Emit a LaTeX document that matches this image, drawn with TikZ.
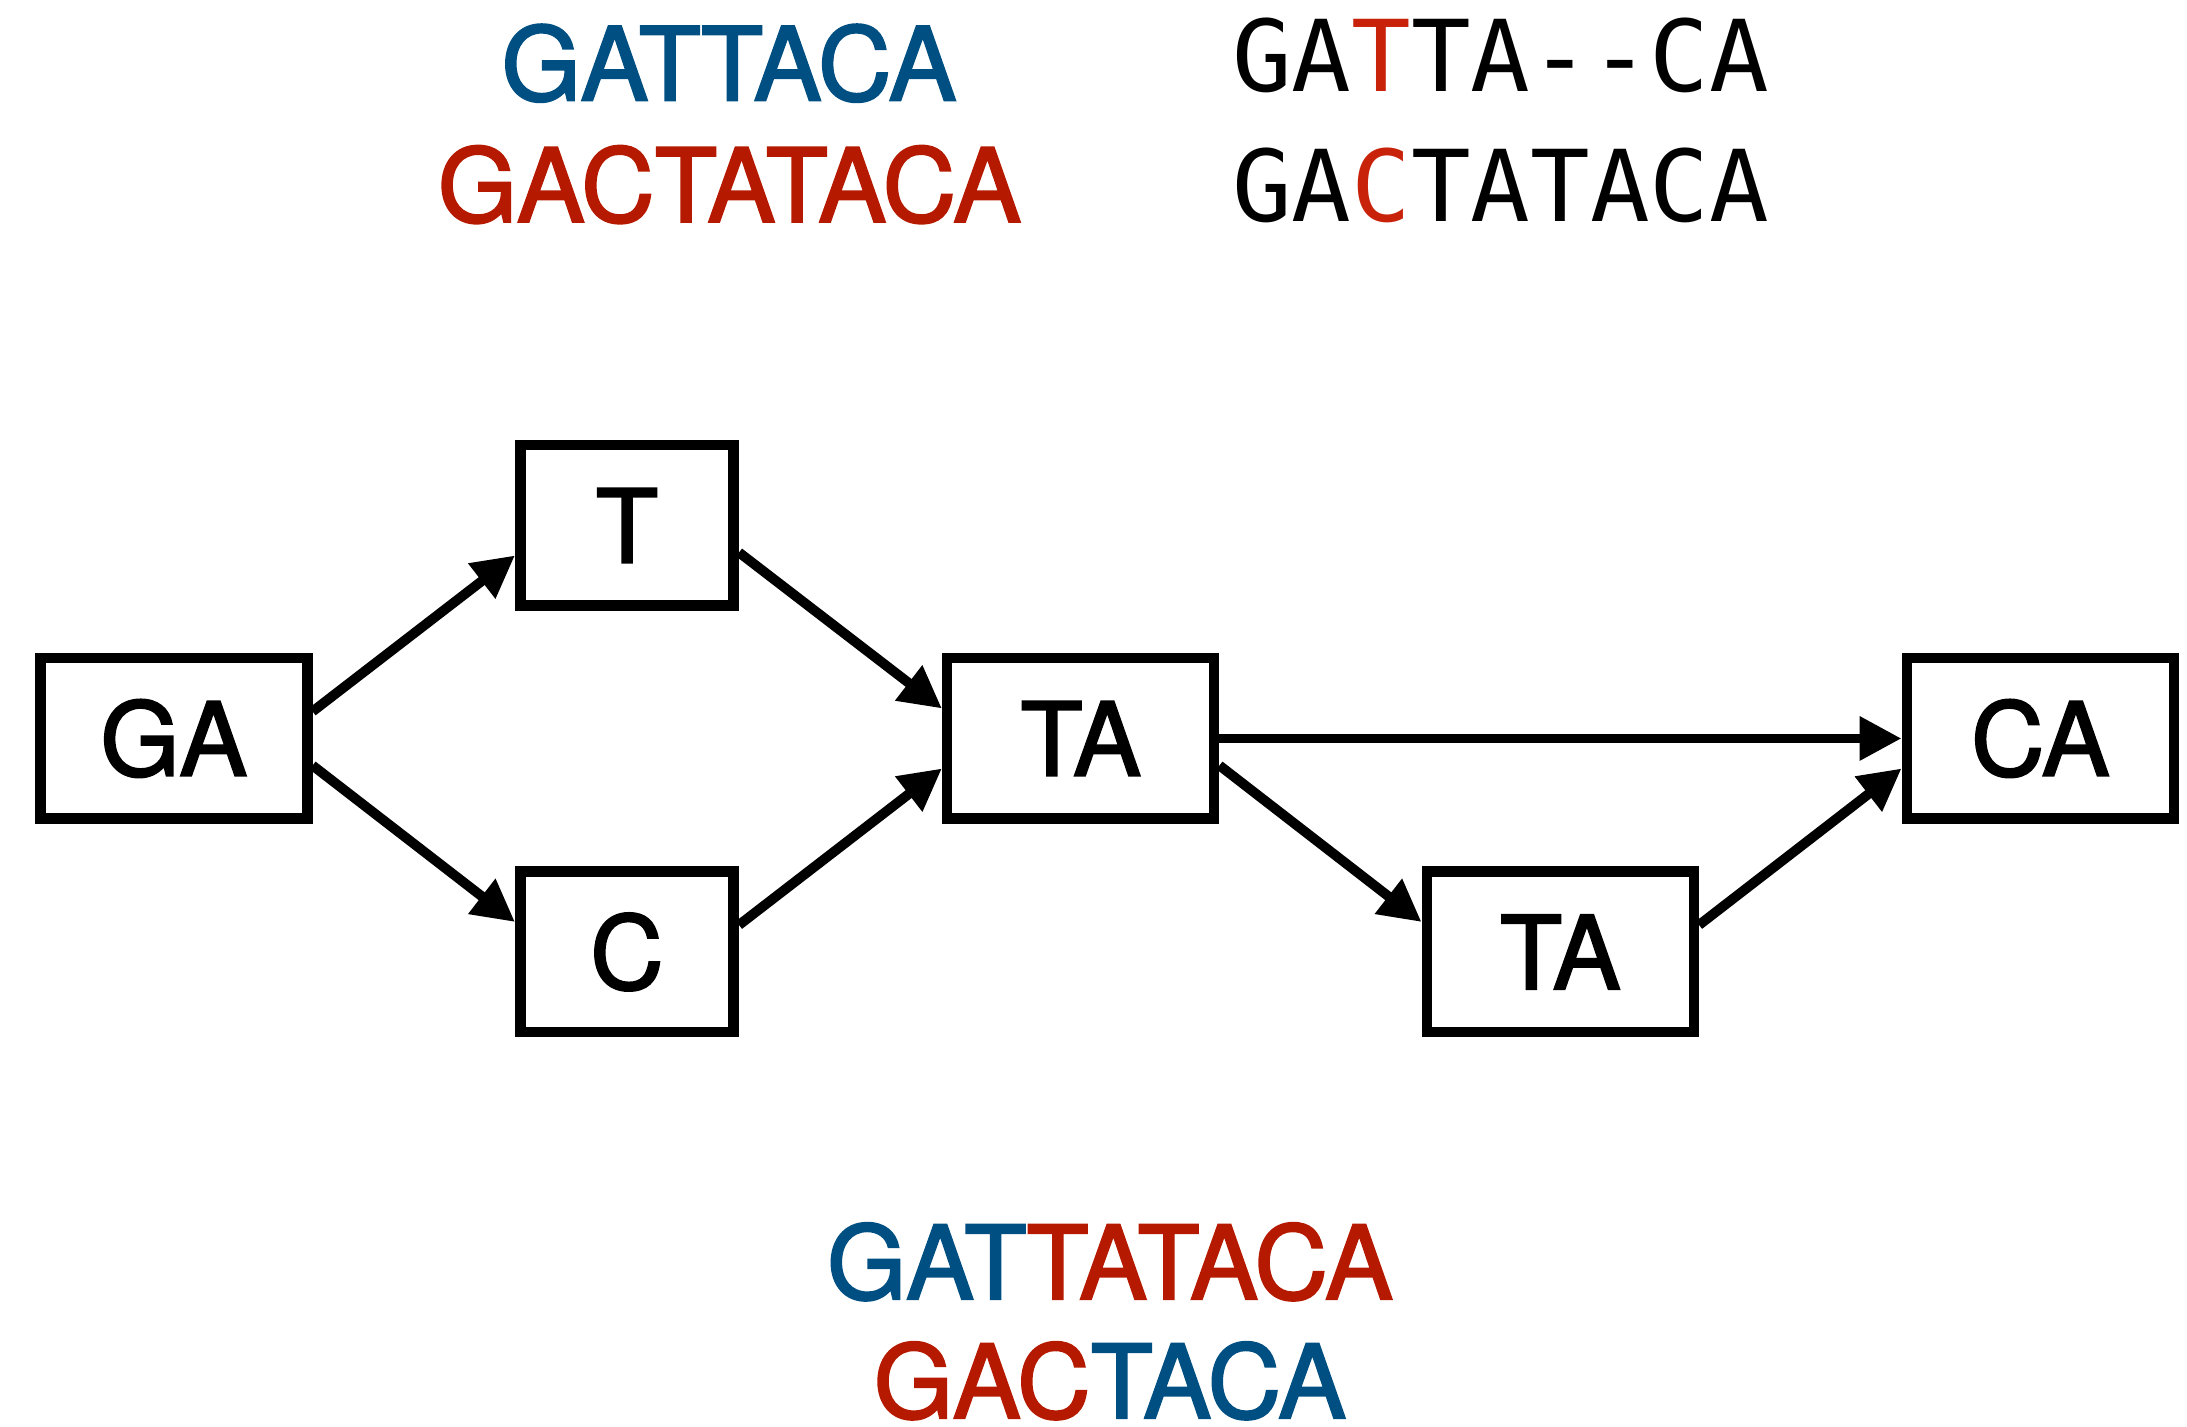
\documentclass[tikz,border=0pt]{standalone}
\usepackage{fontspec}
\setmainfont{TeX Gyre Heros}[FakeBold=2]
\setmonofont{DejaVu Sans Mono}
\usetikzlibrary{arrows.meta}

\definecolor{seqblue}{HTML}{004F82}
\definecolor{seqred}{HTML}{B51A00}
\definecolor{mismatch}{HTML}{C8220A}

\newcommand{\seqsize}{\fontsize{29}{35}\selectfont}

\begin{document}
\begin{tikzpicture}[
        kmer/.style={draw, line width=3pt, minimum height=1.605cm, inner sep=0pt, font=\seqsize},
        wide/.style={kmer, minimum width=2.67cm},
        narrow/.style={kmer, minimum width=2.135cm},
        link/.style={line width=2.8pt, -{Triangle[length=4.2mm,width=4.2mm]}},
        seq/.style={anchor=base, inner sep=0pt, font=\seqsize},
        aln/.style={anchor=base west, inner sep=0pt, font=\ttfamily\fontsize{28.2}{34}\selectfont}
    ]
        \useasboundingbox (0,0) rectangle (21.87,14.27);

        % the two reads
        \node[seq, text=seqblue] (readA) at (7.29,13.266) {GATTACA};
        \node[seq, text=seqred] (readB) at (7.295,12.052) {GACTATACA};

        % alignment of the reads
        \node[aln] (alnA) at (12.315,13.35) {GA\textcolor{mismatch}{T}TA--CA};
        \node[aln] (alnB) at (12.315,12.055) {GA\textcolor{mismatch}{C}TATACA};

        % draw the k-mer graph
        \node[wide] (GA) at (1.738,6.885) {GA};
        \node[narrow] (T) at (6.27,9.015) {T};
        \node[narrow] (C) at (6.27,4.75) {C};
        \node[wide] (TA) at (10.807,6.885) {TA};
        \node[wide] (TAlow) at (15.603,4.75) {TA};
        \node[wide] (CA) at (20.403,6.885) {CA};

        % draw the edges between k-mers
        \draw[link] ([yshift=2.7mm]GA.east) -- ([yshift=-3mm]T.west);
        \draw[link] ([yshift=-2.7mm]GA.east) -- ([yshift=3mm]C.west);
        \draw[link] ([yshift=-2.7mm]T.east) -- ([yshift=3mm]TA.west);
        \draw[link] ([yshift=2.7mm]C.east) -- ([yshift=-3mm]TA.west);
        \draw[link] (TA.east) -- (CA.west);
        \draw[link] ([yshift=-2.7mm]TA.east) -- ([yshift=3mm]TAlow.west);
        \draw[link] ([yshift=2.7mm]TAlow.east) -- ([yshift=-3mm]CA.west);

        % the two paths spelled out
        \node[seq] (mergeA) at (11.10,1.28) {\textcolor{seqblue}{GAT}\textcolor{seqred}{TATACA}};
        \node[seq] (mergeB) at (11.10,0.09) {\textcolor{seqred}{GAC}\textcolor{seqblue}{TACA}};
\end{tikzpicture}
\end{document}
